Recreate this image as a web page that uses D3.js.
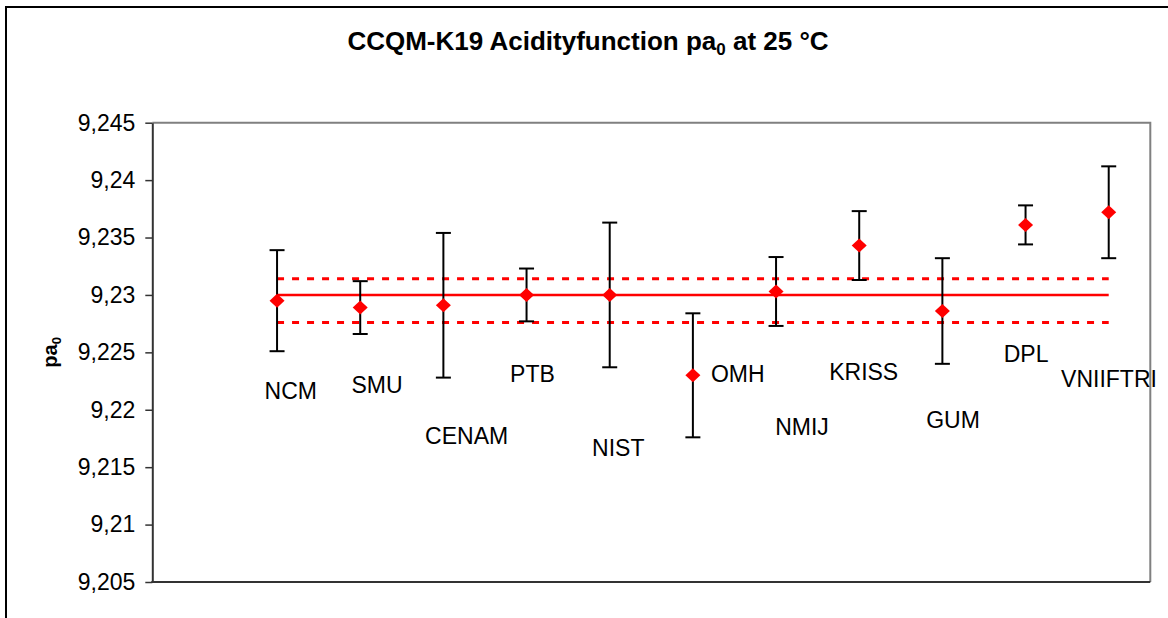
<!DOCTYPE html>
<html>
<head>
<meta charset="utf-8">
<script src="https://cdn.jsdelivr.net/npm/d3@7"></script>
<style>
  body { margin: 0; background: #fff; }
  svg { display: block; font-family: "Liberation Sans", Arial, sans-serif; }
</style>
</head>
<body>
<svg width="1168" height="618"></svg>
<script>
// institutes, in plot order
const labs = ["NCM", "SMU", "CENAM", "PTB", "NIST", "OMH", "NMIJ", "KRISS", "GUM", "DPL", "VNIIFTRI"];
// pa0 results and their uncertainties
const pa0 = [9.2295, 9.2289, 9.2291, 9.2300, 9.2300, 9.2230, 9.2303, 9.2343, 9.2286, 9.2361, 9.2372];
const unc = [0.0044, 0.0023, 0.0063, 0.0023, 0.0063, 0.0054, 0.0030, 0.0030, 0.0046, 0.0017, 0.0040];
// reference value with its band
const kcrv = 9.2300;
const kcrvHi = 9.2314;
const kcrvLo = 9.2276;
// where each data label was dragged to (shift in categories, height in pa0)
const labShift = [-0.15, -0.106, -0.22, -0.198, -0.212, 0.217, -0.01, -0.361, -0.194, -0.262, -0.573];
const labY = [9.2209, 9.2215, 9.2170, 9.2224, 9.2160, 9.2224, 9.2178, 9.2226, 9.2184, 9.2242, 9.2220];
const yTicks = [9.205, 9.21, 9.215, 9.22, 9.225, 9.23, 9.235, 9.24, 9.245];

let svg = d3.select("svg");
let pLeft = 152.3, pRight = 1150.3, pTop = 122.7, pBottom = 582;

let x = d3.scaleBand().domain(labs).range([pLeft, pRight]).paddingInner(0).paddingOuter(0.5).align(1);
let y = d3.scaleLinear().domain([9.205, 9.245]).range([pBottom, pTop]);
let cx = (d) => x(d) + x.bandwidth() / 2;

let fmt = d3.formatLocale({ decimal: ",", thousands: ".", grouping: [3], currency: ["", ""] }).format("~g");

// chart frame
svg.append("rect")
  .attr("x", 6).attr("y", 7).attr("width", 1300).attr("height", 800)
  .attr("fill", "none").attr("stroke", "#000").attr("stroke-width", 2);

// plot area border (top, right)
svg.append("path")
  .attr("d", `M${pLeft},${pTop}H${pRight}V${pBottom}`)
  .attr("fill", "none").attr("stroke", "#808080").attr("stroke-width", 2);

// title
let title = svg.append("text")
  .attr("x", 588).attr("y", 50)
  .attr("text-anchor", "middle")
  .style("font-size", "26px").style("font-weight", "bold");
title.append("tspan").text("CCQM-K19 Acidityfunction pa");
title.append("tspan").attr("dy", 5).style("font-size", "17px").text("0");
title.append("tspan").attr("dy", -5).text(" at 25 °C");

// y axis
let yAxis = svg.append("g")
  .attr("transform", `translate(${pLeft},0)`)
  .call(d3.axisLeft(y).tickValues(yTicks).tickFormat(fmt).tickSize(7).tickSizeOuter(0).tickPadding(10));
yAxis.select(".domain").attr("stroke", "#333").attr("stroke-width", 2);
yAxis.selectAll(".tick line").attr("stroke", "#333").attr("stroke-width", 1.5);
yAxis.selectAll(".tick text")
  .attr("fill", "#000")
  .style("font-size", "23px")
  .style("font-family", "'Liberation Sans', Arial, sans-serif");

// x axis line
svg.append("line")
  .attr("x1", pLeft - 1).attr("x2", pRight)
  .attr("y1", pBottom).attr("y2", pBottom)
  .attr("stroke", "#333").attr("stroke-width", 2);

// y title
let yt = svg.append("text")
  .attr("transform", `translate(50,${(pTop + pBottom) / 2}) rotate(-90)`)
  .attr("text-anchor", "middle")
  .attr("dy", "0.35em")
  .style("font-size", "20px").style("font-weight", "bold");
yt.append("tspan").text("pa");
yt.append("tspan").attr("dy", 4).style("font-size", "13px").text("0");

// reference lines
let x0 = cx(labs[0]), x1 = cx(labs[labs.length - 1]);
svg.append("line")
  .attr("x1", x0).attr("x2", x1).attr("y1", y(kcrv)).attr("y2", y(kcrv))
  .attr("stroke", "#ff0000").attr("stroke-width", 2.5);
[kcrvHi, kcrvLo].forEach((v) => {
  svg.append("line")
    .attr("x1", x0).attr("x2", x1).attr("y1", y(v)).attr("y2", y(v))
    .attr("stroke", "#ff0000").attr("stroke-width", 3)
    .attr("stroke-dasharray", "7,8");
});

// error bars
let bars = svg.append("g").attr("stroke", "#000").attr("stroke-width", 2);
labs.forEach((d, i) => {
  let px = cx(d);
  let yh = y(pa0[i] + unc[i]), yl = y(pa0[i] - unc[i]);
  bars.append("line").attr("x1", px).attr("x2", px).attr("y1", yh).attr("y2", yl);
  bars.append("line").attr("x1", px - 7.5).attr("x2", px + 7.5).attr("y1", yh).attr("y2", yh);
  bars.append("line").attr("x1", px - 7.5).attr("x2", px + 7.5).attr("y1", yl).attr("y2", yl);
});

// diamonds
svg.append("g")
  .selectAll("path")
  .data(labs)
  .enter()
  .append("path")
  .attr("d", (d, i) => {
    let px = cx(d), py = y(pa0[i]);
    return `M${px},${py - 7}L${px + 7.5},${py}L${px},${py + 7}L${px - 7.5},${py}Z`;
  })
  .attr("fill", "#ff0000");

// data labels
svg.append("g")
  .selectAll("text")
  .data(labs)
  .enter()
  .append("text")
  .attr("x", (d, i) => cx(d) + labShift[i] * x.step())
  .attr("y", (d, i) => y(labY[i]))
  .style("font-size", "23px")
  .text((d) => d);
</script>
</body>
</html>
